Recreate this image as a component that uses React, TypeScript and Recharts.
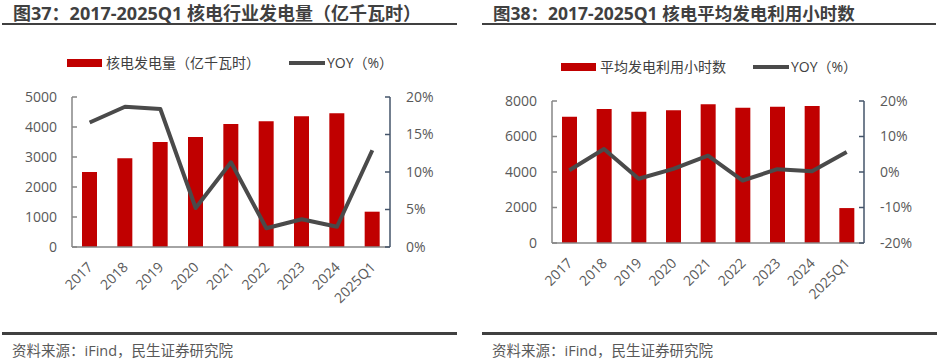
import React from 'react';
import { ComposedChart, Bar, Line, XAxis, YAxis } from 'recharts';

const CATEGORIES = ['2017', '2018', '2019', '2020', '2021', '2022', '2023', '2024', '2025Q1'];

// 图37 核电行业发电量（亿千瓦时）与同比
const GEN_VALUES = [2500, 2957, 3500, 3667, 4100, 4190, 4357, 4457, 1177];
const GEN_YOY = [16.6, 18.7, 18.4, 5.2, 11.3, 2.5, 3.7, 2.7, 12.9];
const GEN_TICKS = [0, 1000, 2000, 3000, 4000, 5000];
const GEN_YOY_TICKS = [0, 5, 10, 15, 20];

// 图38 核电平均发电利用小时数与同比
const HOUR_VALUES = [7117, 7550, 7398, 7477, 7815, 7624, 7680, 7719, 1968];
const HOUR_YOY = [0.5, 6.5, -1.9, 0.9, 4.6, -2.4, 0.8, 0.2, 5.6];
const HOUR_TICKS = [0, 2000, 4000, 6000, 8000];
const HOUR_YOY_TICKS = [-20, -10, 0, 10, 20];

const FONT = '"Open Sans", "Noto Sans CJK SC", sans-serif';
const RED = '#C00000';
const LINE = '#4a4a4a';
const AXIS_GRAY = '#868686';
const AXIS_BLUE = '#44546A';
const TEXT = '#404040';
const TICK_TEXT = '#595959';

const genData = CATEGORIES.map((name, i) => ({ name, value: GEN_VALUES[i], yoy: GEN_YOY[i] }));
const hourData = CATEGORIES.map((name, i) => ({ name, value: HOUR_VALUES[i], yoy: HOUR_YOY[i] }));

const RotatedTick = ({ x, y, payload }: any) => {
  const ax = x + 4;
  const ay = y + 21;
  return (
    <text
      x={ax}
      y={ay}
      transform={`rotate(-45 ${ax} ${ay})`}
      textAnchor="end"
      fontSize={14}
      fontFamily={FONT}
      fill={TICK_TEXT}
    >
      {payload.value}
    </text>
  );
};

const tickStyle = { fontSize: 14, fontFamily: FONT, fill: TICK_TEXT };

type PanelProps = {
  left: number;
  width: number;
  data: any[];
  top: number;
  bottom: number;
  leftAxisWidth: number;
  rightAxisWidth: number;
  barTicks: number[];
  yoyTicks: number[];
};

const Panel = ({ left, width, data, top, bottom, leftAxisWidth, rightAxisWidth, barTicks, yoyTicks }: PanelProps) => (
  <div style={{ position: 'absolute', left, top: 0 }}>
    <ComposedChart
      width={width}
      height={361}
      data={data}
      margin={{ top, right: 0, bottom: 361 - bottom - 30, left: 0 }}
    >
      <XAxis
        dataKey="name"
        height={30}
        stroke={AXIS_GRAY}
        strokeWidth={1.5}
        tickLine={false}
        tickSize={0}
        tickMargin={0}
        interval={0}
        tick={<RotatedTick />}
      />
      <YAxis
        yAxisId="left"
        width={leftAxisWidth}
        domain={[barTicks[0], barTicks[barTicks.length - 1]]}
        ticks={barTicks}
        stroke={AXIS_GRAY}
        strokeWidth={1.5}
        tickSize={-5}
        tickMargin={20}
        tick={tickStyle}
        interval={0}
      />
      <YAxis
        yAxisId="right"
        orientation="right"
        width={rightAxisWidth}
        domain={[yoyTicks[0], yoyTicks[yoyTicks.length - 1]]}
        ticks={yoyTicks}
        stroke={AXIS_BLUE}
        strokeWidth={1.5}
        tickSize={-5}
        tickMargin={21}
        tick={tickStyle}
        tickFormatter={(v: number) => `${v}%`}
        interval={0}
      />
      <Bar yAxisId="left" dataKey="value" fill={RED} barSize={15} isAnimationActive={false} />
      <Line
        yAxisId="right"
        type="linear"
        dataKey="yoy"
        stroke={LINE}
        strokeWidth={4}
        dot={false}
        activeDot={false}
        strokeLinejoin="round"
        isAnimationActive={false}
      />
    </ComposedChart>
  </div>
);

const abs = (s: React.CSSProperties): React.CSSProperties => ({ position: 'absolute', whiteSpace: 'nowrap', ...s });

const Legend = ({ x, y, barLabel, lineX }: { x: number; y: number; barLabel: string; lineX: number }) => (
  <>
    <div style={abs({ left: x, top: y - 4, width: 35, height: 8, background: RED })} />
    <div style={abs({ left: x + 39, top: y - 10, lineHeight: '20px', fontSize: 14, color: TEXT, fontFamily: FONT })}>
      {barLabel}
    </div>
    <div style={abs({ left: lineX, top: y - 2, width: 36, height: 4, background: LINE })} />
    <div style={abs({ left: lineX + 38, top: y - 10, lineHeight: '20px', fontSize: 14, color: TEXT, fontFamily: FONT })}>
      YOY（%）
    </div>
  </>
);

export default function App() {
  return (
    <div style={{ position: 'absolute', left: 0, top: 0, width: 939, height: 361, background: '#fff', overflow: 'hidden', fontFamily: FONT }}>
      {/* titles */}
      <div style={abs({ left: 13, top: 3, fontSize: 18, fontWeight: 700, lineHeight: '20px', color: TEXT })}>
        图37：2017-2025Q1 核电行业发电量（亿千瓦时）
      </div>
      <div style={abs({ left: 2, top: 23, width: 455, height: 2, background: TEXT })} />
      <div style={abs({ left: 493, top: 3, fontSize: 17.5, fontWeight: 700, lineHeight: '20px', color: TEXT })}>
        图38：2017-2025Q1 核电平均发电利用小时数
      </div>
      <div style={abs({ left: 482, top: 23, width: 454, height: 2, background: TEXT })} />

      <Legend x={67} y={63} barLabel="核电发电量（亿千瓦时）" lineX={289} />
      <Legend x={561} y={67} barLabel="平均发电利用小时数" lineX={753} />

      <Panel
        left={0}
        width={470}
        data={genData}
        top={97}
        bottom={247}
        leftAxisWidth={72}
        rightAxisWidth={80}
        barTicks={GEN_TICKS}
        yoyTicks={GEN_YOY_TICKS}
      />
      <Panel
        left={470}
        width={469}
        data={hourData}
        top={101}
        bottom={243}
        leftAxisWidth={82}
        rightAxisWidth={75}
        barTicks={HOUR_TICKS}
        yoyTicks={HOUR_YOY_TICKS}
      />

      {/* footers */}
      <div style={abs({ left: 2, top: 332, width: 455, height: 3, background: TEXT })} />
      <div style={abs({ left: 482, top: 332, width: 455, height: 3, background: TEXT })} />
      <div style={abs({ left: 12, top: 341, fontSize: 14.5, lineHeight: '20px', color: TICK_TEXT })}>
        资料来源：iFind，民生证券研究院
      </div>
      <div style={abs({ left: 492, top: 341, fontSize: 14.5, lineHeight: '20px', color: TICK_TEXT })}>
        资料来源：iFind，民生证券研究院
      </div>
    </div>
  );
}
